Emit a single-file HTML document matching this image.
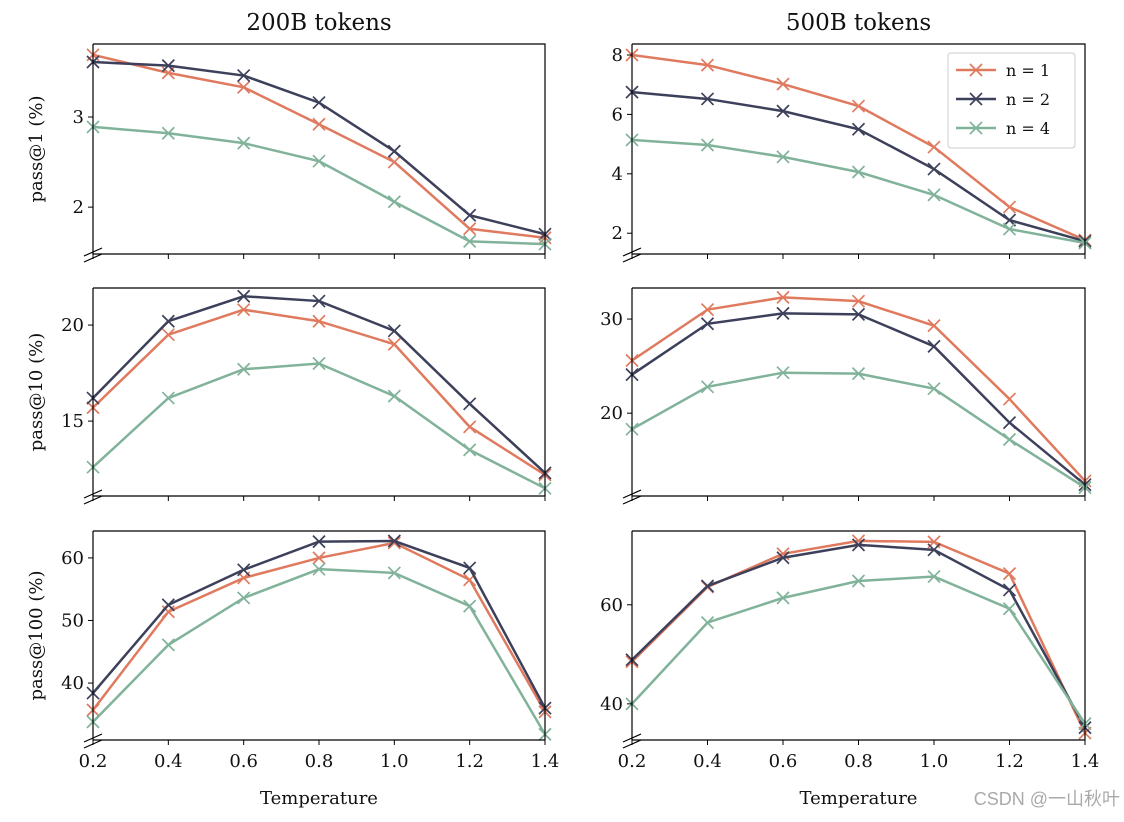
<!DOCTYPE html>
<html><head><meta charset="utf-8"><style>
body{margin:0;background:#fff;}
svg text{font-family:"DejaVu Serif","Liberation Serif",serif;fill:#111;}
</style></head><body>
<svg id="c" width="1124" height="817" xmlns="http://www.w3.org/2000/svg"></svg>
<script>
const temps=[0.2,0.4,0.6,0.8,1.0,1.2,1.4];
const seriesNames=["n = 1","n = 2","n = 4"];
const colors=["#e07a5f","#3d405b","#81b29a"];
const p1_200_n1=[3.69,3.49,3.33,2.92,2.5,1.76,1.66];
const p1_200_n2=[3.61,3.57,3.46,3.16,2.62,1.91,1.70];
const p1_200_n4=[2.89,2.82,2.71,2.51,2.06,1.62,1.59];
const p1_500_n1=[8.0,7.66,7.02,6.28,4.9,2.88,1.77];
const p1_500_n2=[6.75,6.52,6.11,5.5,4.16,2.44,1.73];
const p1_500_n4=[5.14,4.97,4.57,4.06,3.29,2.14,1.67];
const p10_200_n1=[15.7,19.5,20.8,20.2,19.0,14.7,12.2];
const p10_200_n2=[16.2,20.2,21.5,21.25,19.7,15.9,12.3];
const p10_200_n4=[12.6,16.2,17.7,18.0,16.3,13.5,11.5];
const p10_500_n1=[25.6,31.0,32.3,31.9,29.3,21.5,12.8];
const p10_500_n2=[24.1,29.5,30.6,30.5,27.1,19.0,12.4];
const p10_500_n4=[18.3,22.8,24.3,24.2,22.6,17.2,12.1];
const p100_200_n1=[35.7,51.4,56.8,60.0,62.4,56.5,35.4];
const p100_200_n2=[38.4,52.5,58.1,62.6,62.7,58.4,36.0];
const p100_200_n4=[33.8,46.1,53.6,58.2,57.6,52.3,31.8];
const p100_500_n1=[48.5,63.6,70.3,72.9,72.7,66.3,34.1];
const p100_500_n2=[48.9,63.8,69.5,72.1,71.1,63.0,35.2];
const p100_500_n4=[40.0,56.4,61.4,64.8,65.7,59.2,36.0];
const xTicks=[0.2,0.4,0.6,0.8,1.0,1.2,1.4];
const yTicks_p1_200=[2,3],yTicks_p1_500=[2,4,6,8];
const yTicks_p10_200=[15,20],yTicks_p10_500=[20,30];
const yTicks_p100_200=[40,50,60],yTicks_p100_500=[40,60];

const svg=document.getElementById('c');
const NS="http://www.w3.org/2000/svg";
function mk(t,a,p){const e=document.createElementNS(NS,t);for(const k in a)e.setAttribute(k,a[k]);(p||svg).appendChild(e);return e;}
const cols=[{x0:93,x1:545},{x0:632,x1:1085}];
const rows=[{y0:44,y1:254},{y0:288,y1:496},{y0:531,y1:740}];
const panels=[
 {r:0,c:0,ymin:1.48,ymax:3.81,ticks:yTicks_p1_200,data:[p1_200_n1,p1_200_n2,p1_200_n4],label:"pass@1 (%)"},
 {r:0,c:1,ymin:1.3,ymax:8.37,ticks:yTicks_p1_500,data:[p1_500_n1,p1_500_n2,p1_500_n4]},
 {r:1,c:0,ymin:11.1,ymax:21.93,ticks:yTicks_p10_200,data:[p10_200_n1,p10_200_n2,p10_200_n4],label:"pass@10 (%)"},
 {r:1,c:1,ymin:11.2,ymax:33.3,ticks:yTicks_p10_500,data:[p10_500_n1,p10_500_n2,p10_500_n4]},
 {r:2,c:0,ymin:30.9,ymax:64.3,ticks:yTicks_p100_200,data:[p100_200_n1,p100_200_n2,p100_200_n4],label:"pass@100 (%)"},
 {r:2,c:1,ymin:32.7,ymax:74.9,ticks:yTicks_p100_500,data:[p100_500_n1,p100_500_n2,p100_500_n4]}
];
panels.forEach((p,pi)=>{
 const C=cols[p.c],R=rows[p.r];
 const g=mk('g',{});
 
 
 const sx=v=>C.x0+(v-0.2)/1.2*(C.x1-C.x0);
 const sy=v=>R.y1-(v-p.ymin)/(p.ymax-p.ymin)*(R.y1-R.y0);
 p.data.forEach((d,si)=>{
  const pts=d.map((v,i)=>sx(temps[i])+','+sy(v)).join(' ');
  const l=mk('polyline',{points:pts,fill:'none',stroke:colors[si],'stroke-width':2.5},g);
  
  
  d.forEach((v,i)=>{const x=sx(temps[i]),y=sy(v),s=6;
   const m=mk('path',{d:`M${x-s} ${y-s}L${x+s} ${y+s}M${x-s} ${y+s}L${x+s} ${y-s}`,stroke:colors[si],'stroke-width':1.7},g);
   
   });
 });
 mk('path',{d:`M${C.x0} ${R.y0}H${C.x1}V${R.y1}M${C.x0} ${R.y0}V${R.y1}H${C.x1}`,fill:'none',stroke:'#000','stroke-width':1.2},g);
 mk('path',{d:`M${C.x0-9} ${R.y1+2}L${C.x0+9} ${R.y1-6}M${C.x0-9} ${R.y1+8}L${C.x0+9} ${R.y1}`,stroke:'#000','stroke-width':1.2},g);
 p.ticks.forEach(t=>{const y=sy(t);
  mk('line',{x1:C.x0-5,x2:C.x0,y1:y,y2:y,stroke:'#000','stroke-width':1},g);
  const tx=mk('text',{x:C.x0-9,y:y+6,'text-anchor':'end','font-size':18},g);tx.textContent=t;
  
  });
 xTicks.forEach(t=>{const x=sx(t);
  mk('line',{x1:x,x2:x,y1:R.y1,y2:R.y1+5,stroke:'#000','stroke-width':1},g);
  if(p.r===2){const tx=mk('text',{x:x,y:R.y1+27,'text-anchor':'middle','font-size':18},g);tx.textContent=t.toFixed(1);
   
   }});
 if(p.label){const tx=mk('text',{x:0,y:0,'text-anchor':'middle','font-size':18,transform:`translate(42,${(R.y0+R.y1)/2}) rotate(-90)`},g);tx.textContent=p.label;
  
  }
 if(p.r===2){const tx=mk('text',{x:(C.x0+C.x1)/2,y:804,'text-anchor':'middle','font-size':18},g);tx.textContent='Temperature';
  
  }
 if(p.r===0){const tx=mk('text',{x:(C.x0+C.x1)/2,y:30,'text-anchor':'middle','font-size':23},g);tx.textContent=p.c===0?'200B tokens':'500B tokens';
  
  }
});
const lg=mk('g',{});


mk('rect',{x:948,y:53,width:127,height:95,rx:3,fill:'#fff',stroke:'#ccc'},lg);
seriesNames.forEach((n,i)=>{const y=70+i*29;
 const e=mk('g',{},lg);
 
 
 mk('line',{x1:956,x2:996,y1:y,y2:y,stroke:colors[i],'stroke-width':2.5},e);
 mk('path',{d:`M970 ${y-6}L982 ${y+6}M970 ${y+6}L982 ${y-6}`,stroke:colors[i],'stroke-width':1.7},e);
 const t=mk('text',{x:1006,y:y+6,'font-size':16},e);t.textContent=n;});
const w=mk('text',{x:1120,y:805,'text-anchor':'end','font-size':18,style:'fill:#aaa;font-family:"Liberation Sans","Noto Sans CJK SC",sans-serif'});
w.textContent='CSDN @一山秋叶';


</script>
</body></html>
